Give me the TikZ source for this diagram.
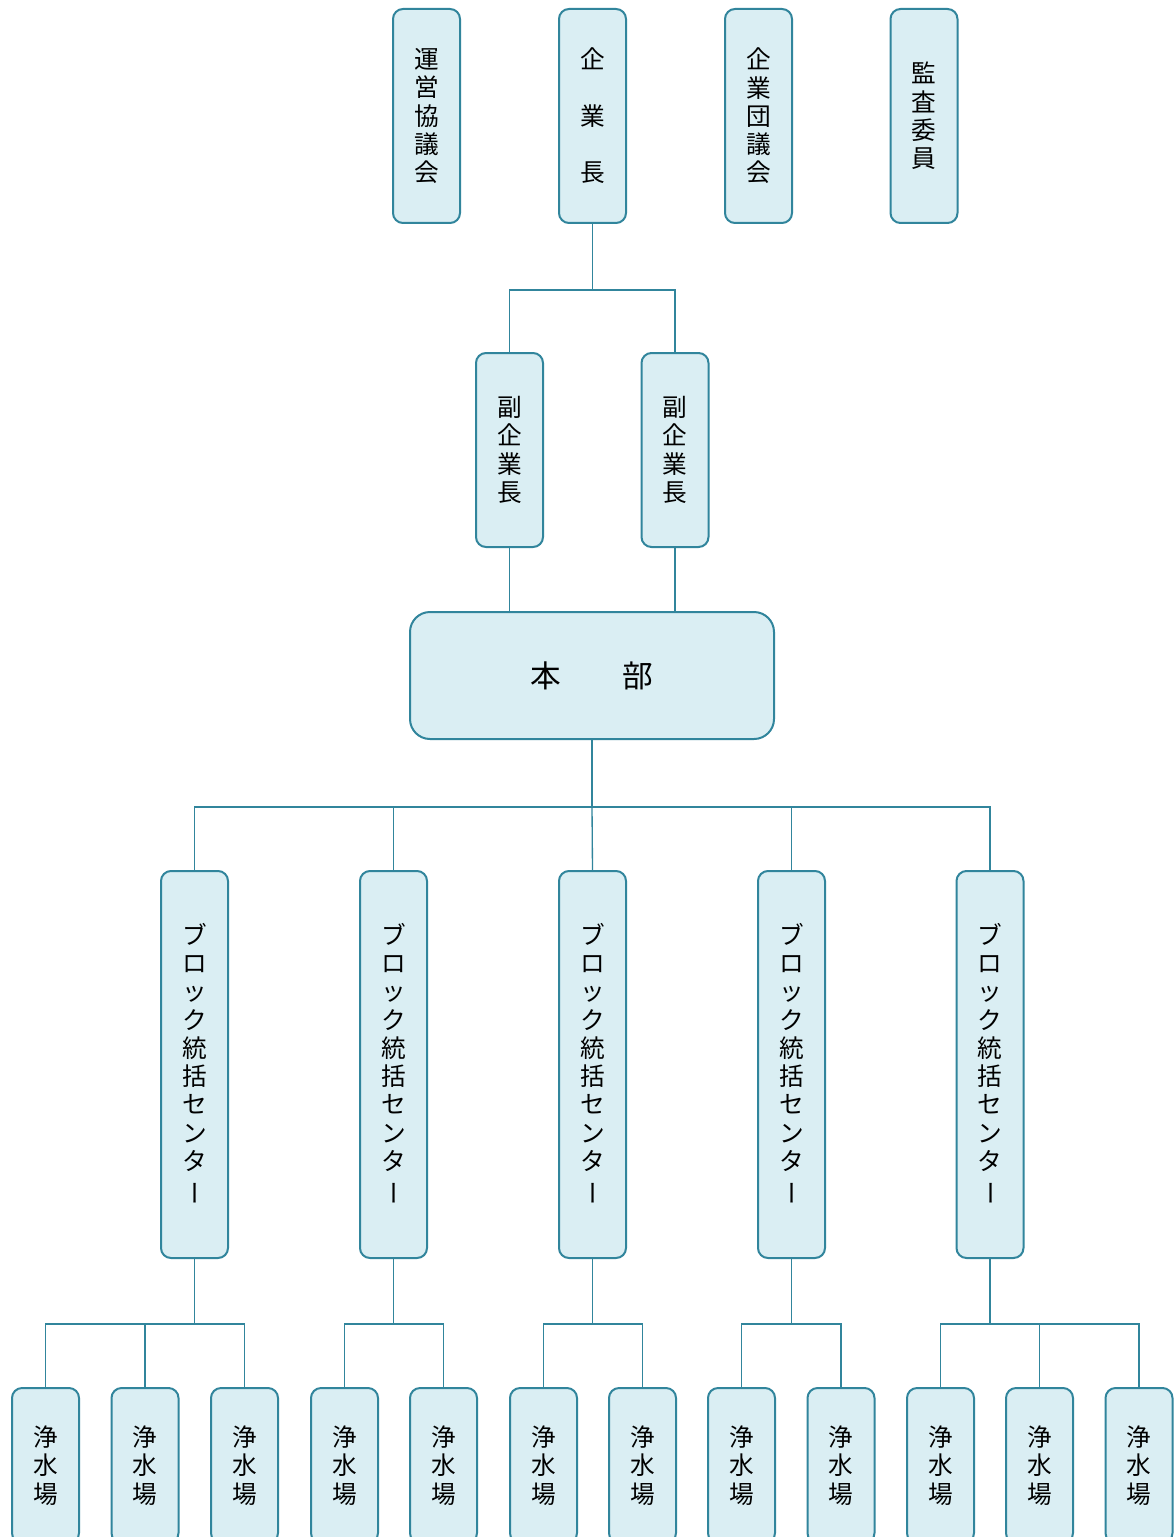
\documentclass[tikz,border=0pt]{standalone}
\usepackage{fontspec}
\usepackage{graphicx}
\newfontfamily\jp{Noto Sans CJK JP}
\definecolor{boxfill}{HTML}{DAEEF3}
\definecolor{boxline}{HTML}{31859C}
\newcommand{\vbar}{\hspace*{7.5pt}\rotatebox[origin=c]{90}{ー}}
\tikzset{
  orgbox/.style={draw=boxline,fill=boxfill,line width=1.5pt,rounded corners=7.5pt,
    inner sep=0pt,minimum width=50.25pt,align=center,
    font=\jp\fontsize{18.5}{21.2}\selectfont},
  link/.style={draw=boxline,line width=1pt}
}
\begin{document}
\begin{tikzpicture}[x=0.75pt,y=-0.75pt]
 \useasboundingbox[fill=white](0,0) rectangle (1176,1537);
 % top row
 \node[orgbox,minimum height=160.5pt](kyogikai) at (426.5,116){運\\営\\協\\議\\会};
 \node[orgbox,minimum height=160.5pt](kigyocho) at (592.5,116){企\\[21.2pt]業\\[21.2pt]長};
 \node[orgbox,minimum height=160.5pt](giin) at (758.5,116){企\\業\\団\\議\\会};
 \node[orgbox,minimum height=160.5pt](kansa) at (924,116){監\\査\\委\\員};
 % vice
 \node[orgbox,minimum height=145.5pt](fuku1) at (509.5,450){副\\企\\業\\長};
 \node[orgbox,minimum height=145.5pt](fuku2) at (675,450){副\\企\\業\\長};
 % head office
 \node[orgbox,minimum width=273pt,minimum height=95.25pt,rounded corners=15pt,
   font=\jp\fontsize{23}{26}\selectfont](honbu) at (592,675.5){本\hspace{46pt}部};
 % block centres
 \foreach \n/\x in {1/194.5,2/393.5,3/592.5,4/791.5,5/990}
  \node[orgbox,minimum height=290.25pt](blk\n) at (\x,1064.5)
   {ブ\\ロ\\ッ\\ク\\統\\括\\セ\\ン\\タ\\\vbar};
 % water plants
 \foreach \n/\x in {1/45.5,2/145,3/244.5,4/344.5,5/443.5,6/543.5,7/642.5,8/741.5,9/841,10/940.5,11/1039.5,12/1139}
  \node[orgbox,minimum height=116.25pt](jyo\n) at (\x,1465.5){浄\\水\\場};
 % connectors
 \draw[link](kigyocho.south)--++(0,66) coordinate(j0);
 \draw[link](fuku1.north)|-(j0)-|(fuku2.north);
 \draw[link](fuku1.south)--(fuku1.south|-honbu.north);
 \draw[link](fuku2.south)--(fuku2.south|-honbu.north);
 \draw[link](honbu.south)--++(0,67) coordinate(j1);
 \draw[link](blk1.north)|-(j1)-|(blk5.north);
 \draw[link](blk2.north)--(blk2.north|-j1);
 \draw[link](blk3.north)--(j1);
 \draw[link](blk4.north)--(blk4.north|-j1);
 \foreach \n in {1,...,5}
  \draw[link](blk\n.south)--++(0,65) coordinate(k\n);
 \draw[link](jyo1.north)|-(k1)-|(jyo3.north);
 \draw[link](jyo2.north)--(jyo2.north|-k1);
 \draw[link](jyo4.north)|-(k2)-|(jyo5.north);
 \draw[link](jyo6.north)|-(k3)-|(jyo7.north);
 \draw[link](jyo8.north)|-(k4)-|(jyo9.north);
 \draw[link](jyo10.north)|-(k5)-|(jyo12.north);
 \draw[link](jyo11.north)--(jyo11.north|-k5);
\end{tikzpicture}
\end{document}
